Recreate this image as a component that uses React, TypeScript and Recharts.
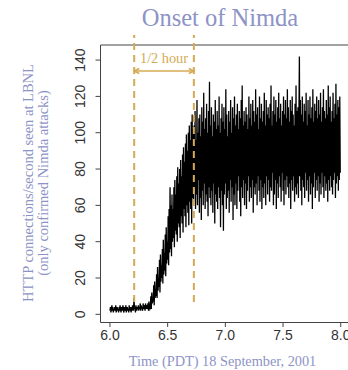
import React from 'react';
import { LineChart, Line, XAxis, YAxis, ReferenceLine } from 'recharts';

// Time axis: hours (PDT) on 18 September 2001, one sample every 15 seconds
const TIME_START = 6.0;
const STEP_HOURS = 1 / 240;

// HTTP connections/second (confirmed Nimda attacks)
const baselineRates = [
  2, 4, 1, 3, 5, 2, 4, 1, 3, 2,
  4, 2, 5, 1, 3, 4, 2, 3, 1, 4,
  2, 5, 3, 1, 4, 2, 3, 5, 2, 1,
  4, 3, 2, 5, 1, 3, 4, 2, 3, 1,
  5, 2, 4, 3, 1, 4, 2, 5, 3, 2,
  9, 3, 4, 1, 5, 3, 2, 4, 3, 5,
  2, 4, 3, 6, 2, 5, 3, 4, 2, 6,
  3, 5, 4, 2, 6, 3, 5, 4,
];

const rampRates = [
  3, 6, 2, 7, 4, 3,
  4, 10, 3, 12, 6, 9,
  7, 16, 5, 18, 9, 14,
  10, 22, 9, 26, 13, 20,
  15, 30, 12, 33, 18, 27,
  20, 36, 17, 41, 22, 34,
  24, 44, 21, 48, 28, 40,
  30, 54, 27, 58, 34, 70,
  36, 60, 32, 66, 40, 58,
  42, 70, 37, 74, 46, 66,
  44, 76, 40, 81, 50, 72,
  48, 80, 42, 85, 54, 76,
  50, 88, 45, 92, 58, 84,
  54, 94, 48, 99, 60, 90,
  56, 100, 49, 104, 62, 96,
  58, 106, 50, 110, 64, 102,
];

const plateauRates = [
  62, 104, 70, 112, 58, 96, 66, 118, 60, 100, 74, 108,
  56, 110, 64, 98, 52, 114, 68, 106, 60, 122, 72, 102,
  58, 108, 66, 116, 62, 100, 54, 112, 70, 128, 64, 104,
  60, 114, 68, 98, 56, 110, 72, 106, 50, 118, 66, 102,
  62, 112, 58, 104, 70, 120, 64, 100, 48, 108, 68, 116,
  60, 106, 46, 114, 66, 102, 72, 124, 58, 110, 64, 98,
  68, 112, 56, 106, 74, 118, 62, 100, 70, 114, 52, 108,
  66, 120, 60, 104, 72, 110, 58, 116, 68, 102, 76, 112,
  62, 108, 54, 118, 70, 126, 64, 104, 74, 112, 60, 106,
  72, 114, 58, 110, 68, 102, 76, 120, 62, 108, 70, 116,
  64, 104, 74, 118, 56, 112, 70, 106, 66, 124, 72, 110,
  60, 114, 76, 102, 68, 120, 62, 108, 74, 116, 58, 106,
  70, 112, 64, 122, 72, 104, 60, 118, 76, 110, 66, 114,
  74, 108, 62, 116, 70, 126, 68, 104, 78, 112, 60, 120,
  66, 110, 74, 118, 58, 106, 72, 114, 64, 122, 76, 108,
  70, 116, 62, 104, 78, 112, 68, 120, 60, 110, 74, 118,
  66, 108, 76, 124, 70, 114, 64, 106, 72, 118, 58, 112,
  74, 120, 68, 110, 76, 104, 62, 116, 70, 126, 66, 112,
  72, 114, 64, 108, 142, 76, 118, 68, 110, 60, 120, 74,
  106, 70, 116, 64, 112, 78, 122, 68, 104, 74, 118, 62,
  110, 76, 120, 66, 108, 72, 114, 58, 124, 70, 106, 78,
  116, 64, 112, 74, 120, 68, 108, 76, 118, 62, 110, 72,
  122, 66, 106, 78, 114, 70, 124, 64, 112, 76, 108, 68,
  118, 72, 110, 62, 126, 74, 114, 68, 120, 76, 106, 70,
  112, 66, 122, 74, 108, 78, 116, 64, 127, 72, 110, 76,
  118, 68, 114, 74, 120, 78,
];

const X_TICKS = [6.0, 6.5, 7.0, 7.5, 8.0];
const Y_TICKS = [0, 20, 40, 60, 80, 100, 120, 140];
const X_DOMAIN: [number, number] = [5.918, 8.082];
const Y_DOMAIN: [number, number] = [-4.5, 148.3];

// Half-hour annotation
const HALF_HOUR_START = 6.21;
const HALF_HOUR_END = 6.727;
const MARKER_BOTTOM = 6.8;
const MARKER_TOP = 153.8;
const ARROW_LEVEL = 134;
const ARROW_LABEL = '1/2 hour';

const TITLE = 'Onset of Nimda';
const Y_LABEL_1 = 'HTTP connections/second seen at LBNL';
const Y_LABEL_2 = '(only confirmed Nimda attacks)';
const X_LABEL = 'Time (PDT) 18 September, 2001';

const allRates = [...baselineRates, ...rampRates, ...plateauRates];
const data = allRates.map((rate, i) => ({ t: TIME_START + i * STEP_HOURS, rate }));

const SERIF = '"Liberation Serif", "Times New Roman", serif';
const SANS = '"Liberation Sans", Arial, sans-serif';
const LAVENDER = '#8d93c6';
const GOLD = '#d4ab55';
const AXIS = '#444';
const TICK_TEXT = '#333';

const YTick = (props: any) => {
  const { x, y, payload } = props;
  return (
    <text
      x={x}
      y={y}
      transform={`rotate(-90, ${x}, ${y})`}
      textAnchor="middle"
      fontSize={14}
      fontFamily={SANS}
      fill={TICK_TEXT}
    >
      {payload.value}
    </text>
  );
};

const ArrowShape = (p: any) => {
  const { x1, y1, x2, y2 } = p;
  if (x1 == null) return null;
  const ah = 5;
  const aw = 2.5;
  return (
    <g>
      <line x1={x1} y1={y1} x2={x2} y2={y2} stroke={GOLD} strokeWidth={1.5} />
      <path d={`M${x1 + ah},${y1 - aw} L${x1},${y1} L${x1 + ah},${y1 + aw}`} fill="none" stroke={GOLD} strokeWidth={1.5} />
      <path d={`M${x2 - ah},${y2 - aw} L${x2},${y2} L${x2 - ah},${y2 + aw}`} fill="none" stroke={GOLD} strokeWidth={1.5} />
      <text
        x={(x1 + x2) / 2}
        y={y1 - 7.7}
        textAnchor="middle"
        fontSize={14.3}
        fontFamily={SERIF}
        fill={GOLD}
      >
        {ARROW_LABEL}
      </text>
    </g>
  );
};

export default function App() {
  return (
    <div style={{ position: 'absolute', left: 0, top: 0, width: 348, height: 370, overflow: 'hidden', background: '#fff' }}>
      <LineChart
        width={360}
        height={370}
        data={data}
        margin={{ top: 45, right: 9.8, left: 0, bottom: 17.5 }}
      >
        <XAxis
          dataKey="t"
          type="number"
          domain={X_DOMAIN}
          allowDataOverflow
          ticks={X_TICKS}
          interval={0}
          tickFormatter={(v: number) => v.toFixed(1)}
          height={30}
          tickSize={4.5}
          tickMargin={3.5}
          stroke={AXIS}
          tick={{ fontSize: 14, fill: TICK_TEXT, fontFamily: SANS }}
        />
        <YAxis
          type="number"
          domain={Y_DOMAIN}
          allowDataOverflow
          ticks={Y_TICKS}
          interval={0}
          width={100.5}
          tickSize={5}
          tickMargin={10.5}
          stroke={AXIS}
          tick={<YTick />}
        />
        <ReferenceLine y={Y_DOMAIN[1]} stroke={AXIS} strokeWidth={1} />
        <Line
          dataKey="rate"
          type="linear"
          stroke="#000"
          strokeWidth={1.3}
          dot={false}
          isAnimationActive={false}
        />
        <ReferenceLine
          segment={[{ x: HALF_HOUR_START, y: MARKER_BOTTOM }, { x: HALF_HOUR_START, y: MARKER_TOP }]}
          stroke={GOLD}
          strokeWidth={2}
          strokeDasharray="7 5"
          ifOverflow="visible"
        />
        <ReferenceLine
          segment={[{ x: HALF_HOUR_END, y: MARKER_BOTTOM }, { x: HALF_HOUR_END, y: MARKER_TOP }]}
          stroke={GOLD}
          strokeWidth={2}
          strokeDasharray="7 5"
          ifOverflow="visible"
        />
        <ReferenceLine
          segment={[{ x: HALF_HOUR_START, y: ARROW_LEVEL }, { x: HALF_HOUR_END, y: ARROW_LEVEL }]}
          ifOverflow="visible"
          shape={ArrowShape}
        />
      </LineChart>
      <svg
        width={348}
        height={370}
        style={{ position: 'absolute', left: 0, top: 0, pointerEvents: 'none' }}
      >
        <text x={220} y={26} textAnchor="middle" fontSize={24.5} fontFamily={SERIF} fill={LAVENDER}>
          {TITLE}
        </text>
        <text x={33} y={183} transform="rotate(-90, 33, 183)" textAnchor="middle" fontSize={14.5} fontFamily={SERIF} fill={LAVENDER}>
          {Y_LABEL_1}
        </text>
        <text x={48} y={183} transform="rotate(-90, 48, 183)" textAnchor="middle" fontSize={14.5} fontFamily={SERIF} fill={LAVENDER}>
          {Y_LABEL_2}
        </text>
        <text x={222.5} y={366} textAnchor="middle" fontSize={14.3} fontFamily={SERIF} fill={LAVENDER}>
          {X_LABEL}
        </text>
      </svg>
    </div>
  );
}
